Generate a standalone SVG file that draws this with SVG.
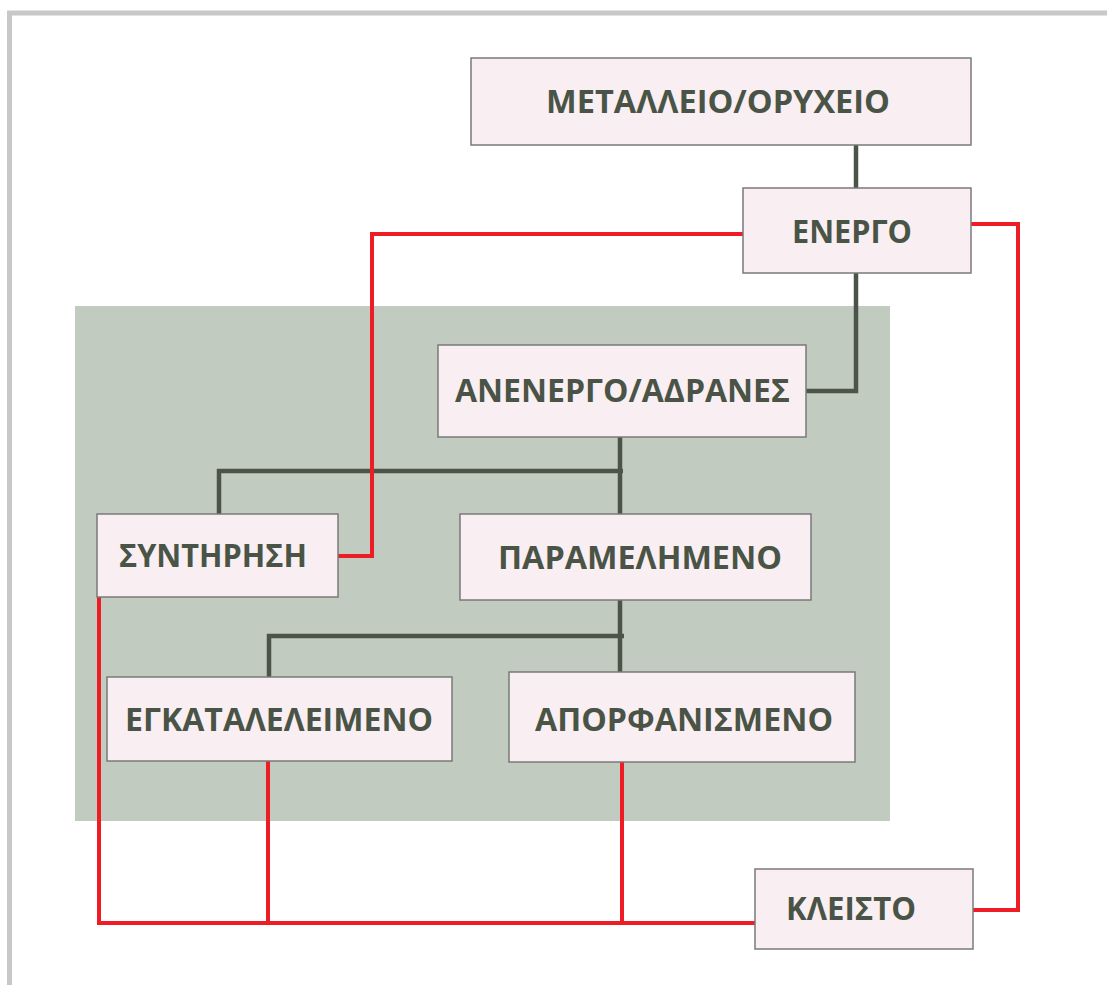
<svg xmlns="http://www.w3.org/2000/svg" width="1107" height="985" viewBox="0 0 1107 985">
<style>
.box{fill:#f9eef2;stroke:#7a7a7a;stroke-width:1.5}
.lbl{font-family:"Open Sans","Noto Sans","DejaVu Sans",sans-serif;font-weight:bold;font-size:32px;fill:#4a5446}
.dk{fill:none;stroke:#4c5447;stroke-width:4.5}
.rd{fill:none;stroke:#ee1c25;stroke-width:4}
</style>
<rect x="0" y="0" width="1107" height="985" fill="#ffffff"/>
<rect x="9.5" y="13" width="1200" height="1100" fill="#ffffff" stroke="#c8c8c8" stroke-width="5"/>
<rect id="panel" x="75" y="306" width="815" height="515" fill="#c1cbbf"/>
<g id="connectors">
<path class="dk" d="M856 145V188"/>
<path class="dk" d="M856 273V391H806"/>
<path class="dk" d="M620 437V514M219 514V471H623"/>
<path class="dk" d="M620 600V672M269 677V636H624"/>
<path class="rd" d="M743 234H372V556H338"/>
<path class="rd" d="M971 224H1018V910H973"/>
<path class="rd" d="M99 597V923H755"/>
<path class="rd" d="M268 759V923"/>
<path class="rd" d="M622 760V923"/>
</g>
<g id="n-metalleio"><rect class="box" x="471" y="58" width="500" height="87"/><text class="lbl" x="546" y="113" textLength="344" lengthAdjust="spacingAndGlyphs">ΜΕΤΑΛΛΕΙΟ/ΟΡΥΧΕΙΟ</text></g>
<g id="n-energo"><rect class="box" x="743" y="188" width="228" height="85"/><text class="lbl" x="792" y="243" textLength="120" lengthAdjust="spacingAndGlyphs">ΕΝΕΡΓΟ</text></g>
<g id="n-anenergo"><rect class="box" x="438" y="345" width="368" height="92"/><text class="lbl" x="455" y="402" textLength="335" lengthAdjust="spacingAndGlyphs">ΑΝΕΝΕΡΓΟ/ΑΔΡΑΝΕΣ</text></g>
<g id="n-syntirisi"><rect class="box" x="97" y="514" width="241" height="83"/><text class="lbl" x="119" y="567" textLength="188" lengthAdjust="spacingAndGlyphs">ΣΥΝΤΗΡΗΣΗ</text></g>
<g id="n-paramelimeno"><rect class="box" x="460" y="514" width="351" height="86"/><text class="lbl" x="498" y="569" textLength="284" lengthAdjust="spacingAndGlyphs">ΠΑΡΑΜΕΛΗΜΕΝΟ</text></g>
<g id="n-egkataleleimeno"><rect class="box" x="107" y="677" width="345" height="84"/><text class="lbl" x="125" y="731" textLength="308" lengthAdjust="spacingAndGlyphs">ΕΓΚΑΤΑΛΕΛΕΙΜΕΝΟ</text></g>
<g id="n-aporfanismeno"><rect class="box" x="509" y="672" width="346" height="90"/><text class="lbl" x="535" y="731" textLength="298" lengthAdjust="spacingAndGlyphs">ΑΠΟΡΦΑΝΙΣΜΕΝΟ</text></g>
<g id="n-kleisto"><rect class="box" x="755" y="869" width="218" height="80"/><text class="lbl" x="786" y="920" textLength="130" lengthAdjust="spacingAndGlyphs">ΚΛΕΙΣΤΟ</text></g>
</svg>
